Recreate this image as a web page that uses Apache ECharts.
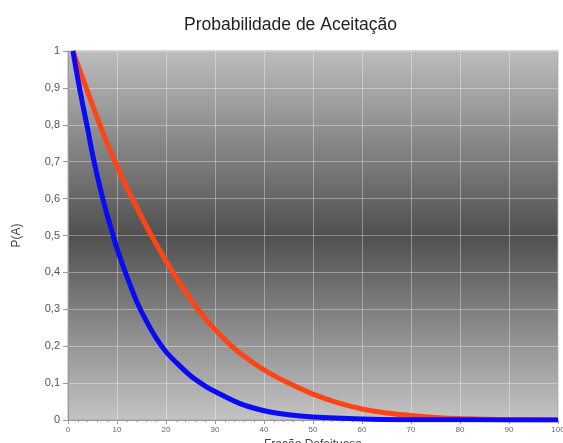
<!DOCTYPE html>
<html lang="pt">
<head>
    <meta charset="UTF-8" />
    <title>Probabilidade de Aceitação</title>
    <script src="https://cdn.jsdelivr.net/npm/echarts@6/dist/echarts.min.js"></script>
    <style>
        html, body { margin: 0; padding: 0; background: #fff; }
        #main { width: 563px; height: 443px; }
    </style>
</head>
<body>
<div id="main"></div>
<script>
    // curva vermelha
    var redX = [1, 2, 4, 6, 8, 10, 12, 14, 16, 18, 20, 22, 25, 28, 30, 33, 36, 40, 45, 50, 55, 60, 65, 70, 75, 80, 90, 100];
    var redY = [1, 0.963, 0.89, 0.818, 0.75, 0.688, 0.63, 0.577, 0.525, 0.477, 0.43, 0.388, 0.328, 0.275, 0.245, 0.205, 0.172, 0.136, 0.1, 0.07, 0.047, 0.03, 0.019, 0.012, 0.007, 0.004, 0.001, 0];
    // curva azul
    var blueX = [1, 2, 3, 4, 5, 6, 7, 8, 9, 10, 12, 14, 16, 18, 20, 22, 25, 28, 30, 35, 40, 45, 50, 60, 70, 80, 100];
    var blueY = [1, 0.925, 0.855, 0.79, 0.72, 0.66, 0.605, 0.555, 0.51, 0.465, 0.39, 0.322, 0.268, 0.222, 0.185, 0.157, 0.12, 0.092, 0.077, 0.045, 0.025, 0.014, 0.008, 0.003, 0.001, 0.0004, 0];

    function pairs(xs, ys) {
        return xs.map(function (x, i) { return [x, ys[i]]; });
    }

    var font = 'Liberation Sans, Arial, sans-serif';
    var myChart = echarts.init(document.getElementById('main'));
    var option = {
        animation: false,
        title: {
            text: 'Probabilidade de Aceitação',
            left: 179,
            top: 11,
            textStyle: {
                fontFamily: font,
                fontSize: 17.5,
                fontWeight: 'normal',
                color: '#222'
            }
        },
        grid: {
            left: 68,
            right: 5,
            top: 51,
            bottom: 23,
            outerBoundsMode: 'none',
            containLabel: false,
            show: true,
            borderWidth: 1,
            borderColor: '#a8a8a8',
            backgroundColor: {
                type: 'linear', x: 0, y: 0, x2: 0, y2: 1,
                colorStops: [
                    { offset: 0, color: '#bdbdbd' },
                    { offset: 0.5, color: '#505050' },
                    { offset: 1, color: '#c4c4c4' }
                ]
            }
        },
        xAxis: {
            type: 'value',
            min: 0,
            max: 100,
            interval: 10,
            name: 'Fração Defeituosa',
            nameLocation: 'middle',
            nameGap: 15,
            nameTextStyle: {
                fontFamily: font,
                fontSize: 12,
                color: '#444'
            },
            axisLine: { show: true, lineStyle: { color: '#999' } },
            axisTick: { show: true, length: 4, lineStyle: { color: '#999' } },
            minorTick: { show: true, splitNumber: 5, length: 2, lineStyle: { color: '#999' } },
            axisLabel: {
                fontFamily: font,
                fontSize: 8,
                color: '#666',
                margin: 6
            },
            splitLine: { show: true, lineStyle: { color: 'rgba(255,255,255,0.35)', width: 1 } }
        },
        yAxis: {
            type: 'value',
            min: 0,
            max: 1,
            interval: 0.1,
            name: 'P(A)',
            nameLocation: 'middle',
            nameGap: 45,
            nameTextStyle: {
                fontFamily: font,
                fontSize: 12,
                color: '#444'
            },
            axisLine: { show: true, lineStyle: { color: '#999' } },
            axisTick: { show: true, length: 5, lineStyle: { color: '#999' } },
            axisLabel: {
                fontFamily: font,
                fontSize: 11,
                color: '#555',
                margin: 8,
                formatter: function (v) {
                    return String(Number(v.toFixed(1))).replace('.', ',');
                }
            },
            splitLine: { show: true, lineStyle: { color: 'rgba(255,255,255,0.35)', width: 1 } }
        },
        series: [
            {
                name: 'vermelha',
                type: 'line',
                data: pairs(redX, redY),
                smooth: 0.3,
                showSymbol: false,
                lineStyle: { color: '#ff4515', width: 5 }
            },
            {
                name: 'azul',
                type: 'line',
                data: pairs(blueX, blueY),
                smooth: 0.3,
                showSymbol: false,
                lineStyle: { color: '#0a0af5', width: 5 }
            }
        ]
    };
    myChart.setOption(option);
</script>
</body>
</html>
